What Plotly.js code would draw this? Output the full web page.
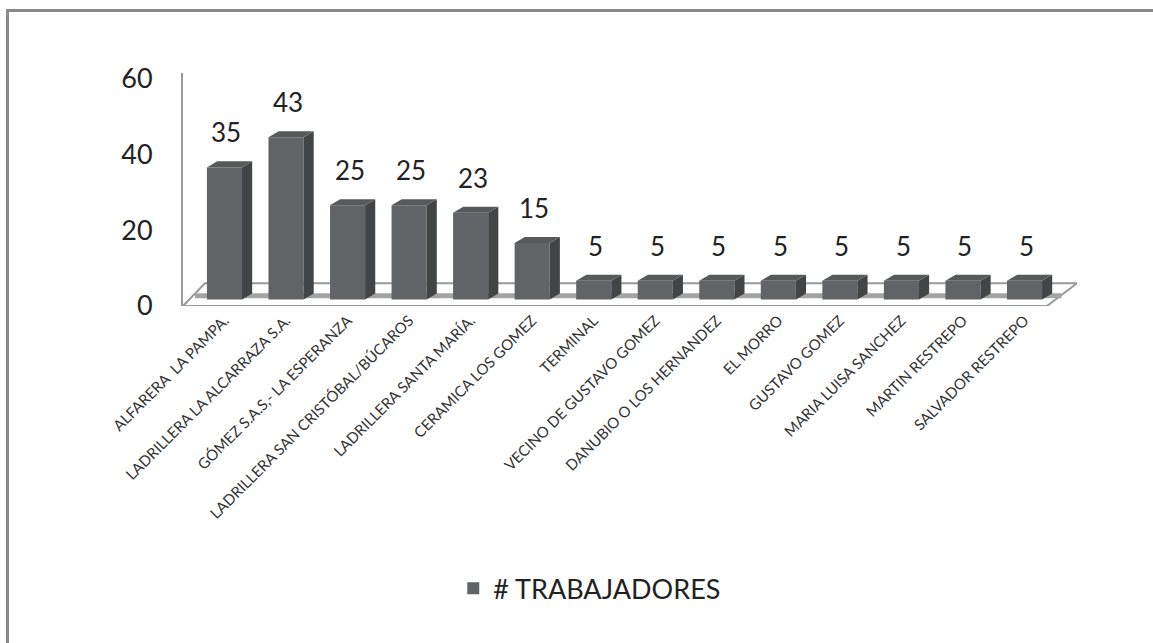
<!DOCTYPE html>
<html>
<head>
<meta charset="utf-8">
<script src="https://cdn.plot.ly/plotly-3.0.1.min.js"></script>
<style>
html,body{margin:0;padding:0;background:#fff;}
#wrap{position:relative;width:1153px;height:643px;overflow:hidden;}
#chart{width:1153px;height:643px;}
#frame{position:absolute;left:6px;top:9px;width:1200px;height:700px;border-left:3px solid #8a8a8a;border-top:3px solid #8a8a8a;pointer-events:none;}
</style>
</head>
<body>
<div id="wrap"><div id="chart"></div><div id="frame"></div></div>
<script>
const categories = [
  "ALFARERA  LA PAMPA.",
  "LADRILLERA LA ALCARRAZA S.A.",
  "GÓMEZ S.A.S,- LA ESPERANZA",
  "LADRILLERA SAN CRISTÓBAL/BÚCAROS",
  "LADRILLERA SANTA MARÍA.",
  "CERAMICA LOS GOMEZ",
  "TERMINAL",
  "VECINO DE GUSTAVO GOMEZ",
  "DANUBIO O LOS HERNANDEZ",
  "EL MORRO",
  "GUSTAVO GOMEZ",
  "MARIA LUISA SANCHEZ",
  "MARTIN RESTREPO",
  "SALVADOR RESTREPO"
];
const trabajadores = [35, 43, 25, 25, 23, 15, 5, 5, 5, 5, 5, 5, 5, 5];
const seriesName = "# TRABAJADORES";
const yTicks = [0, 20, 40, 60];

const idx = categories.map((c, i) => i);
const halfW = 0.285;   // half bar width (category units)
const dx = 0.165;      // 3D depth offset in x
const dy = 1.6;        // 3D depth offset in y

const shapes = [];
// floor (parallelogram)
shapes.push({type:'path', xref:'x', yref:'y', layer:'below',
  path:'M -0.674 -1.7 L 13.365 -1.7 L 13.853 4.3 L -0.317 4.3 Z',
  fillcolor:'#ffffff', line:{color:'#9a9a9a', width:2}});
shapes.push({type:'line', xref:'x', yref:'y', layer:'below',
  x0:-0.48, x1:13.6, y0:1.0, y1:1.0, line:{color:'#a3a3a3', width:5}});
// 3D side and top faces derived from data
trabajadores.forEach((v, i) => {
  const xl = i - halfW, xr = i + halfW;
  shapes.push({type:'path', xref:'x', yref:'y', layer:'above',
    path:`M ${xr} 0 L ${xr+dx} ${dy} L ${xr+dx} ${v+dy} L ${xr} ${v} Z`,
    fillcolor:'#434446', line:{width:0}});
  shapes.push({type:'path', xref:'x', yref:'y', layer:'above',
    path:`M ${xl} ${v} L ${xl+dx} ${v+dy} L ${xr+dx} ${v+dy} L ${xr} ${v} Z`,
    fillcolor:'#58595b', line:{width:0}});
});

const annotations = trabajadores.map((v, i) => ({
  x: i, y: v, xref:'x', yref:'y', text: String(v), showarrow:false,
  yanchor:'bottom', yshift:17, xshift:2,
  font:{family:'Lato, sans-serif', size:26, color:'#222'}
}));

const trace = {
  type:'bar', x: idx, y: trabajadores, name: seriesName,
  width: 2*halfW,
  marker:{color:'#626366', line:{width:0}},
  showlegend:true, hoverinfo:'x+y'
};

const layout = {
  width:1153, height:643,
  margin:{l:183, r:76, t:73, b:337},
  paper_bgcolor:'#ffffff', plot_bgcolor:'rgba(0,0,0,0)',
  font:{family:'Lato, sans-serif', color:'#333'},
  showlegend:true,
  legend:{orientation:'h', x:0.455, xanchor:'center', y:-1.213, yanchor:'middle',
    font:{family:'Lato, sans-serif', size:27, color:'#222'}, itemwidth:30},
  xaxis:{range:[-0.674, 13.853], tickmode:'array', tickvals: idx, ticktext: categories,
    tickangle:-45, showline:false, showgrid:false, zeroline:false, ticks:'',
    ticklabelstandoff:2,
    tickfont:{family:'Lato, sans-serif', size:15, color:'#333'}, fixedrange:true},
  yaxis:{range:[-1.7, 60], tickmode:'array', tickvals:yTicks, ticktext:yTicks.map(String),
    showline:true, linecolor:'#9a9a9a', linewidth:2, showgrid:false, zeroline:false,
    ticks:'', ticklabelstandoff:23, ticklabelshift:6,
    tickfont:{family:'Lato, sans-serif', size:27, color:'#222'}, fixedrange:true},
  shapes: shapes,
  annotations: annotations,
  bargap:0.4
};

Plotly.newPlot('chart', [trace], layout, {displayModeBar:false, staticPlot:true});
</script>
</body>
</html>
